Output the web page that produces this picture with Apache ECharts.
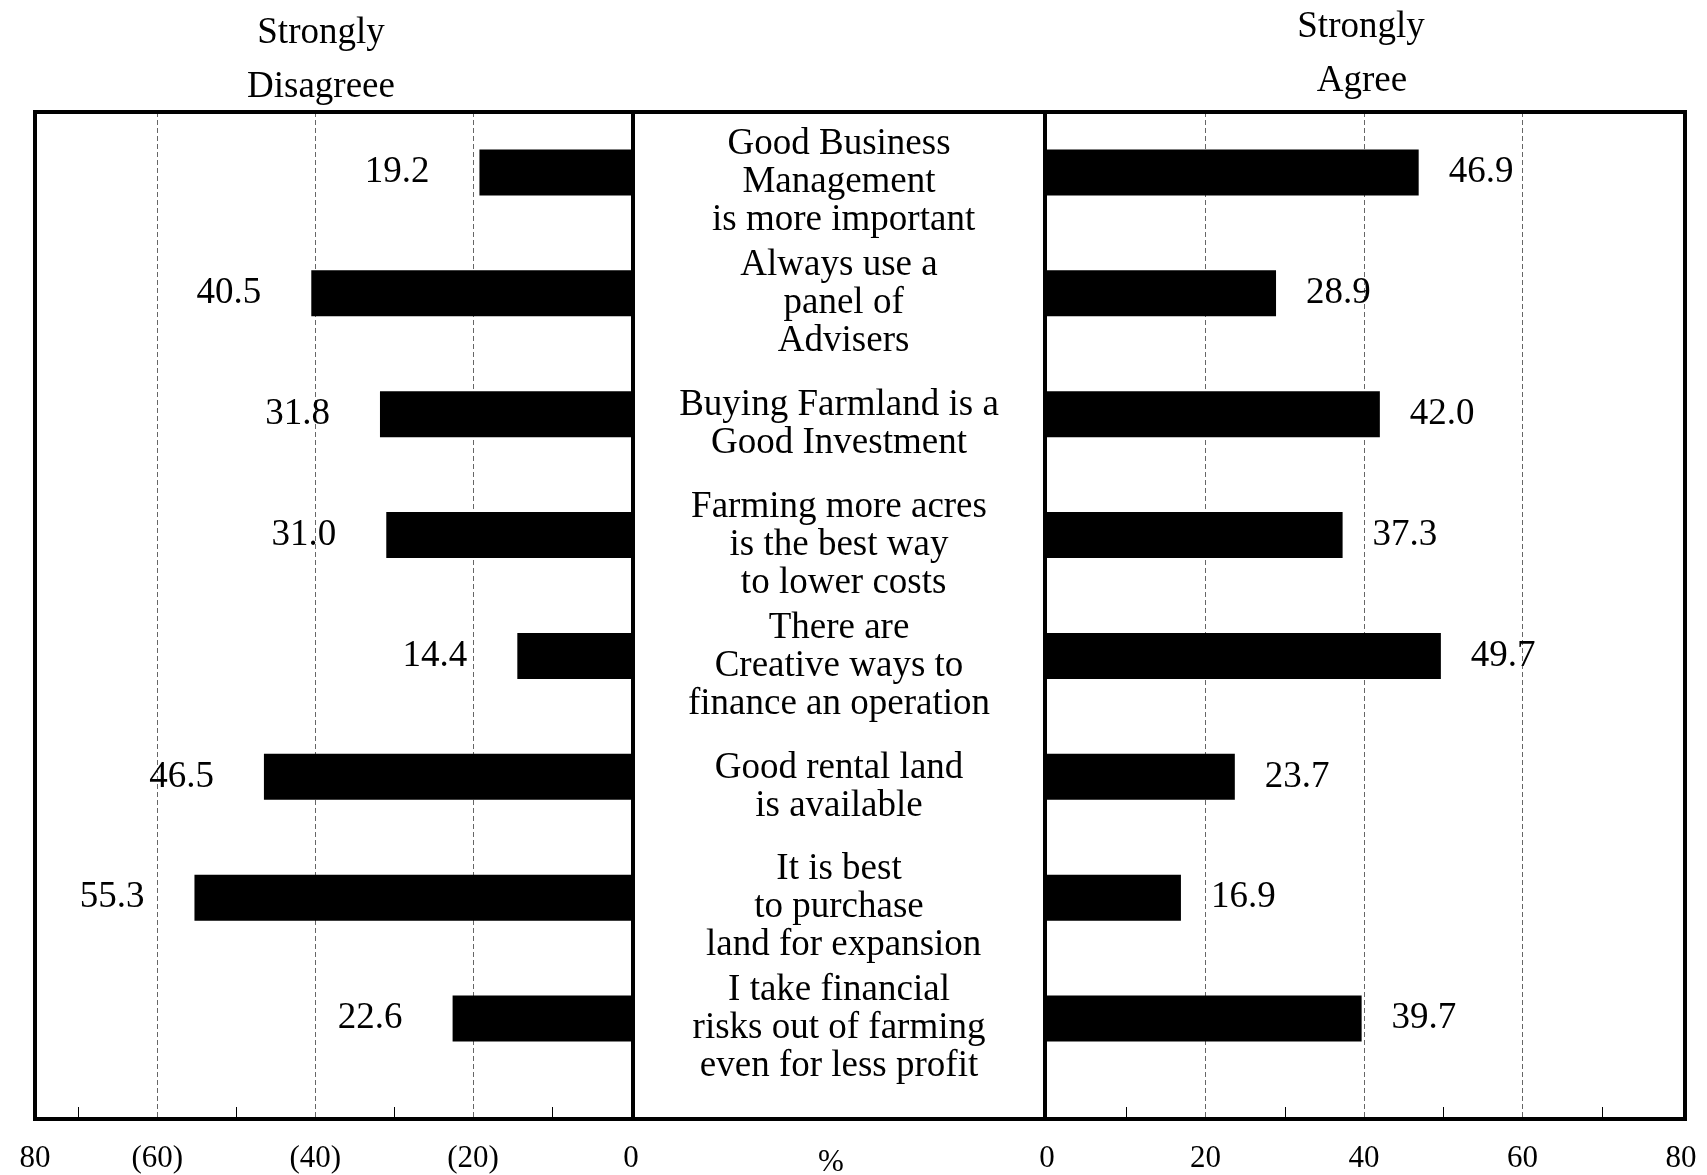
<!DOCTYPE html>
<html><head><meta charset="utf-8">
<script src="https://cdn.jsdelivr.net/npm/echarts@6/dist/echarts.min.js"></script>
<style>html,body{margin:0;padding:0;background:#fff}#c{width:1707px;height:1175px}</style>
</head><body><div id="c"></div>
<script>
// ---- data ----
const statements = [
  'Good Business\nManagement\n is more important',
  'Always use a\n panel of\n Advisers',
  'Buying Farmland is a\nGood Investment',
  'Farming more acres\nis the best way\n to lower costs',
  'There are\nCreative ways to\nfinance an operation',
  'Good rental land\nis available',
  'It is best\nto purchase\n land for expansion',
  'I take financial\nrisks out of farming\neven for less profit'
];
const stronglyDisagree = [19.2, 40.5, 31.8, 31.0, 14.4, 46.5, 55.3, 22.6];
const stronglyAgree    = [46.9, 28.9, 42.0, 37.3, 49.7, 23.7, 16.9, 39.7];
const leftTickLabels  = ['80', '(60)', '(40)', '(20)', '0'];
const leftTickValues  = [-80, -60, -40, -20, 0];
const rightTickLabels = ['0', '20', '40', '60', '80'];
const rightTickValues = [0, 20, 40, 60, 80];
const leftMinorValues  = [-70, -50, -30, -10];
const rightMinorValues = [10, 30, 50, 70];

// ---- layout ----
const FONT = '"Liberation Serif", "Times New Roman", serif';
const FT = 112, FB = 1119, FL = 35, FR = 1685;
const LEFT_MIN = -75.5;
const LG = {left: 35, width: 596};
const RG = {left: 1047, width: 634};
const BAR_TOP = 112, BAR_H = 967, TEXT_SHIFT = 10;

const clampL = v => Math.max(v, LEFT_MIN);
const gridLine = {show: true, lineStyle: {color: '#666', width: 1, type: [5, 3]}};
const axisLabelStyle = {fontSize: 31, color: '#000', fontFamily: FONT, margin: 24};

const chart = echarts.init(document.getElementById('c'), null, {renderer: 'canvas'});
chart.setOption({
  animation: false,
  backgroundColor: '#fff',
  grid: [
    {left: LG.left, width: LG.width, top: FT, height: FB - FT},
    {left: RG.left, width: RG.width, top: FT, height: FB - FT},
    {left: LG.left, width: LG.width, top: BAR_TOP, height: BAR_H},
    {left: RG.left, width: RG.width, top: BAR_TOP, height: BAR_H},
    {left: RG.left, width: RG.width, top: BAR_TOP + TEXT_SHIFT, height: BAR_H}
  ],
  xAxis: [
    { // 0 left: labels + gridlines
      gridIndex: 0, type: 'value', min: LEFT_MIN, max: 0, position: 'bottom',
      axisLine: {show: false},
      axisTick: {show: false, customValues: leftTickValues.filter(v => v > LEFT_MIN && v < 0)},
      splitLine: gridLine,
      axisLabel: Object.assign({
        customValues: leftTickValues.map(clampL),
        formatter: v => leftTickLabels[leftTickValues.map(clampL).indexOf(v)]
      }, axisLabelStyle)
    },
    { // 1 left minor ticks
      gridIndex: 0, type: 'value', min: LEFT_MIN, max: 0, position: 'bottom',
      axisLine: {show: false}, splitLine: {show: false}, axisLabel: {show: false},
      axisTick: {show: true, inside: true, length: 12, customValues: leftMinorValues,
        lineStyle: {color: '#000', width: 1}}
    },
    { // 2 right: labels + gridlines
      gridIndex: 1, type: 'value', min: 0, max: 80, position: 'bottom',
      axisLine: {show: false},
      axisTick: {show: false, customValues: rightTickValues.filter(v => v > 0 && v < 80)},
      splitLine: gridLine,
      axisLabel: Object.assign({
        customValues: rightTickValues,
        formatter: v => rightTickLabels[rightTickValues.indexOf(v)]
      }, axisLabelStyle)
    },
    { // 3 right minor ticks
      gridIndex: 1, type: 'value', min: 0, max: 80, position: 'bottom',
      axisLine: {show: false}, splitLine: {show: false}, axisLabel: {show: false},
      axisTick: {show: true, inside: true, length: 12, customValues: rightMinorValues,
        lineStyle: {color: '#000', width: 1}}
    },
    {gridIndex: 2, type: 'value', min: LEFT_MIN, max: 0, show: false},
    {gridIndex: 3, type: 'value', min: 0, max: 80, show: false},
    {gridIndex: 4, type: 'value', min: 0, max: 80, show: false}
  ],
  yAxis: [
    {gridIndex: 0, type: 'value', show: false},
    {gridIndex: 1, type: 'value', show: false},
    {gridIndex: 2, type: 'category', data: statements, inverse: true, show: false},
    {gridIndex: 3, type: 'category', data: statements, inverse: true, show: false},
    {gridIndex: 4, type: 'category', data: statements, inverse: true, position: 'left',
      axisLine: {show: false}, axisTick: {show: false}, splitLine: {show: false},
      axisLabel: {interval: 0, margin: 208, align: 'center', fontSize: 37, lineHeight: 38,
        color: '#000', fontFamily: FONT}}
  ],
  series: [
    {
      type: 'bar', xAxisIndex: 4, yAxisIndex: 2, barWidth: 46,
      itemStyle: {color: '#000'},
      data: stronglyDisagree.map(v => -v),
      label: {show: true, position: 'left', distance: 50, fontSize: 37, color: '#000',
        fontFamily: FONT, formatter: p => Math.abs(p.value).toFixed(1)}
    },
    {
      type: 'bar', xAxisIndex: 5, yAxisIndex: 3, barWidth: 46,
      itemStyle: {color: '#000'},
      data: stronglyAgree,
      label: {show: true, position: 'right', distance: 30, fontSize: 37, color: '#000',
        fontFamily: FONT, formatter: p => p.value.toFixed(1)}
    }
  ],
  graphic: [
    {type: 'rect', z: 100, shape: {x: FL, y: FT, width: FR - FL, height: FB - FT},
      style: {fill: 'none', stroke: '#000', lineWidth: 4}},
    {type: 'line', z: 100, shape: {x1: 633, y1: FT, x2: 633, y2: FB}, style: {stroke: '#000', lineWidth: 4}},
    {type: 'line', z: 100, shape: {x1: 1045, y1: FT, x2: 1045, y2: FB}, style: {stroke: '#000', lineWidth: 4}},
    {type: 'text', x: 321, y: 33, style: {text: 'Strongly', fontSize: 37, fontFamily: FONT, fill: '#000', align: 'center', verticalAlign: 'middle'}},
    {type: 'text', x: 321, y: 87, style: {text: 'Disagreee', fontSize: 37, fontFamily: FONT, fill: '#000', align: 'center', verticalAlign: 'middle'}},
    {type: 'text', x: 1361, y: 27, style: {text: 'Strongly', fontSize: 37, fontFamily: FONT, fill: '#000', align: 'center', verticalAlign: 'middle'}},
    {type: 'text', x: 1362, y: 81, style: {text: 'Agree', fontSize: 37, fontFamily: FONT, fill: '#000', align: 'center', verticalAlign: 'middle'}},
    {type: 'text', x: 831, y: 1163, style: {text: '%', fontSize: 31, fontFamily: FONT, fill: '#000', align: 'center', verticalAlign: 'middle'}}
  ]
});
</script></body></html>
